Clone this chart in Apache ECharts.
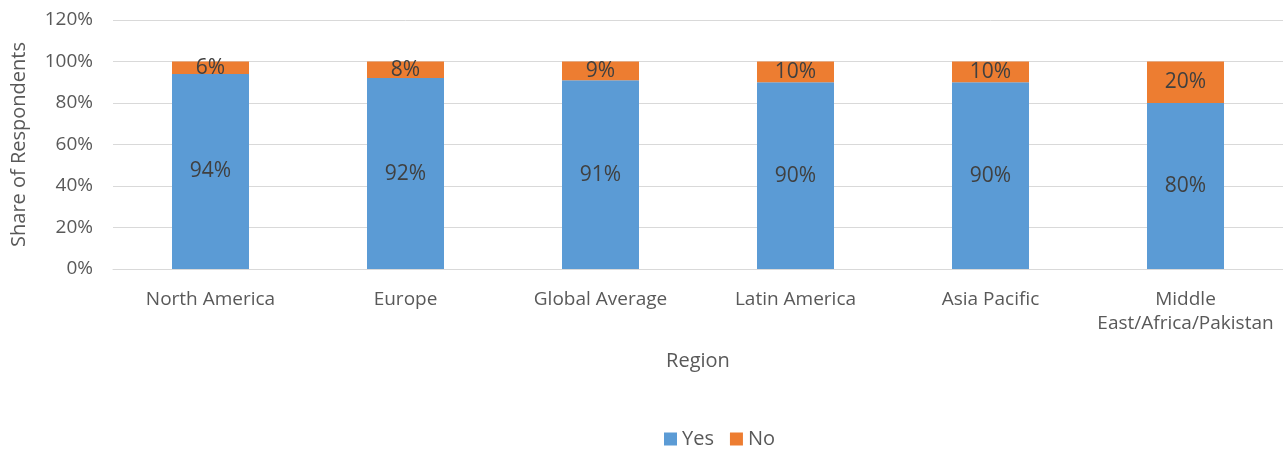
<!DOCTYPE html>
<html><head><meta charset="utf-8">
<script src="https://cdn.jsdelivr.net/npm/echarts@6/dist/echarts.min.js"></script>
<style>html,body{margin:0;padding:0;background:#fff}#c{width:1283px;height:450px}</style>
</head><body><div id="c"></div>
<script>
const categories = ['North America','Europe','Global Average','Latin America','Asia Pacific','Middle\nEast/Africa/Pakistan'];
const yesValues = [94, 92, 91, 90, 90, 80];
const noValues = [6, 8, 9, 10, 10, 20];
const yTicks = [0, 20, 40, 60, 80, 100, 120];
const FONT = '"Open Sans", "Noto Sans", sans-serif';
const chart = echarts.init(document.getElementById('c'));
chart.setOption({
  animation: false,
  textStyle: {fontFamily: FONT},
  grid: {left: 113, right: 0, top: 20, bottom: 181},
  legend: {
    top: 424, left: 659, itemWidth: 13, itemHeight: 13, itemGap: 16,
    icon: 'rect',
    textStyle: {fontFamily: FONT, fontSize: 20, color: '#595959'},
    data: ['Yes', 'No']
  },
  xAxis: {
    type: 'category', data: categories,
    name: 'Region', nameLocation: 'middle', nameGap: 82,
    nameTextStyle: {fontFamily: FONT, fontSize: 20, color: '#595959'},
    axisLine: {show: true, lineStyle: {color: '#d9d9d9'}},
    axisTick: {show: false},
    axisLabel: {fontFamily: FONT, fontSize: 19, color: '#595959', margin: 19, lineHeight: 24, interval: 0}
  },
  yAxis: {
    type: 'value', min: yTicks[0], max: yTicks[yTicks.length - 1], interval: 20,
    name: 'Share of Respondents', nameLocation: 'middle', nameGap: 84,
    nameTextStyle: {fontFamily: FONT, fontSize: 20, color: '#595959'},
    axisLine: {show: false}, axisTick: {show: false},
    axisLabel: {fontFamily: FONT, fontSize: 19, color: '#595959', margin: 20, formatter: '{value}%'},
    splitLine: {lineStyle: {color: '#d9d9d9', width: 1}}
  },
  series: [
    {
      name: 'Yes', type: 'bar', stack: 's', data: yesValues, barWidth: 77,
      itemStyle: {color: '#5B9BD5'},
      label: {show: true, position: 'inside', formatter: '{c}%', fontFamily: FONT, fontSize: 21, color: '#404040'}
    },
    {
      name: 'No', type: 'bar', stack: 's', data: noValues, barWidth: 77,
      itemStyle: {color: '#ED7D31'},
      label: {show: true, position: 'inside', formatter: '{c}%', fontFamily: FONT, fontSize: 21, color: '#404040'}
    }
  ]
});
</script></body></html>
